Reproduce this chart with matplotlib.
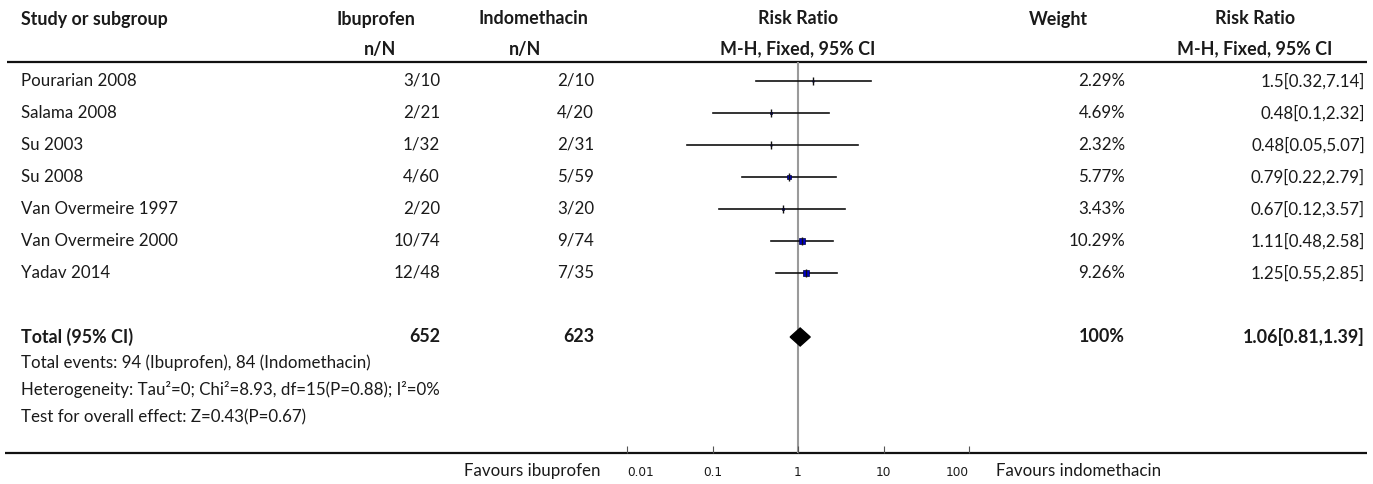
import matplotlib
matplotlib.use("Agg")
import matplotlib.pyplot as plt
from matplotlib.patches import Polygon

# ---- data ----
studies = ["Pourarian 2008", "Salama 2008", "Su 2003", "Su 2008",
           "Van Overmeire 1997", "Van Overmeire 2000", "Yadav 2014"]
ibu_events = [3, 2, 1, 4, 2, 10, 12]
ibu_total = [10, 21, 32, 60, 20, 74, 48]
indo_events = [2, 4, 2, 5, 3, 9, 7]
indo_total = [10, 20, 31, 59, 20, 74, 35]
rr = [1.5, 0.48, 0.48, 0.79, 0.67, 1.11, 1.25]
rr_lo = [0.32, 0.1, 0.05, 0.22, 0.12, 0.48, 0.55]
rr_hi = [7.14, 2.32, 5.07, 2.79, 3.57, 2.58, 2.85]
weights = [2.29, 4.69, 2.32, 5.77, 3.43, 10.29, 9.26]

total_ibu_n = 652
total_indo_n = 623
total_ibu_events = 94
total_indo_events = 84
total_rr, total_lo, total_hi = 1.06, 0.81, 1.39
total_weight = "100%"

heterogeneity = "Heterogeneity: Tau\u00b2=0; Chi\u00b2=8.93, df=15(P=0.88); I\u00b2=0%"
overall = "Test for overall effect: Z=0.43(P=0.67)"
x_ticks = [0.01, 0.1, 1, 10, 100]
x_ticklabels = ["0.01", "0.1", "1", "10", "100"]

# ---- layout (pixel units of a 1373x484 canvas) ----
W, H = 1373, 484
FONT = ["Lato", "DejaVu Sans"]
FS, FSB = 12.2, 12.9
TXT = "#1a1a1a"

fig = plt.figure(figsize=(W / 100, H / 100), dpi=100)
tab = fig.add_axes([0, 0, 1, 1])
tab.set_xlim(0, W)
tab.set_ylim(H, 0)
tab.axis("off")

def put(x, y, s, ha="left", bold=False):
    tab.text(x, y, s, ha=ha, va="center", fontsize=FSB if bold else FS,
             family=FONT, fontweight="bold" if bold else "normal", color=TXT)

col_study = 21
ibu_head, ibu_right = 376, 440
indo_head, indo_right = 533, 594
rr_head = 798
w_head, w_right = 1058, 1125
ci_head, ci_right = 1255, 1365
y_h1, y_h2, y_hline = 19, 49, 62
row0, step = 81, 32
y_axis = 453

# header
put(col_study, y_h1, "Study or subgroup", bold=True)
put(ibu_head, y_h1, "Ibuprofen", "center", True)
put(ibu_head + 4, y_h2, "n/N", "center", True)
put(indo_head, y_h1, "Indomethacin", "center", True)
put(indo_head - 8, y_h2, "n/N", "center", True)
put(rr_head, y_h1, "Risk Ratio", "center", True)
put(rr_head, y_h2, "M-H, Fixed, 95% CI", "center", True)
put(w_head, y_h1, "Weight", "center", True)
put(ci_head, y_h1, "Risk Ratio", "center", True)
put(ci_head, y_h2, "M-H, Fixed, 95% CI", "center", True)
tab.plot([7, 1367], [y_hline, y_hline], color="#111111", lw=1.6,
         solid_capstyle="butt")

# study rows
for i, name in enumerate(studies):
    y = row0 + i * step
    put(col_study, y, name)
    put(ibu_right, y, f"{ibu_events[i]}/{ibu_total[i]}", "right")
    put(indo_right, y, f"{indo_events[i]}/{indo_total[i]}", "right")
    put(w_right, y, f"{weights[i]:.2f}%", "right")
    put(ci_right, y, f"{rr[i]:g}[{rr_lo[i]:g},{rr_hi[i]:g}]", "right")

# totals
y_tot = row0 + 8 * step
put(col_study, y_tot, "Total (95% CI)", bold=True)
put(ibu_right, y_tot, f"{total_ibu_n}", "right", True)
put(indo_right, y_tot, f"{total_indo_n}", "right", True)
put(w_right, y_tot, total_weight, "right", True)
put(ci_right, y_tot, f"{total_rr:g}[{total_lo:g},{total_hi:g}]", "right", True)
put(col_study, 363, f"Total events: {total_ibu_events} (Ibuprofen), "
                    f"{total_indo_events} (Indomethacin)")
put(col_study, 390, heterogeneity)
put(col_study, 417, overall)

# bottom rule and favours labels
tab.plot([5, 1367], [y_axis, y_axis], color="#111111", lw=1.6,
         solid_capstyle="butt")
put(600, 471, "Favours ibuprofen", "right")
put(996, 471, "Favours indomethacin")

# ---- forest plot axes ----
x0, x1 = 627, 969
fx = fig.add_axes([x0 / W, 1 - y_axis / H, (x1 - x0) / W, (y_axis - y_hline) / H])
fx.set_xscale("log")
fx.set_xlim(0.01, 100)
fx.set_ylim((y_axis - row0) / step, (y_hline - row0) / step)
fx.patch.set_alpha(0)
for s in ["top", "left", "right", "bottom"]:
    fx.spines[s].set_visible(False)
fx.set_yticks([])
fx.set_xticks(x_ticks)
fx.set_xticklabels(x_ticklabels)
fx.minorticks_off()
fx.tick_params(axis="x", direction="in", length=5, width=0.8, color="#555555",
               pad=9, labelsize=8.7, labelcolor=TXT)
labels = fx.get_xticklabels()
for lab in labels:
    lab.set_family("DejaVu Sans")
labels[0].set_horizontalalignment("left")
labels[-1].set_horizontalalignment("right")

fx.axvline(1, color="#9a9a9a", lw=1.5, zorder=1)

for i in range(len(studies)):
    fx.plot([rr_lo[i], rr_hi[i]], [i, i], color="#111111", lw=1.2, zorder=2)
    side = 0.6 * weights[i] * 0.72
    fx.plot([rr[i]], [i], marker="s", markersize=side, color="#0000c8",
            markeredgecolor="#000040", markeredgewidth=0.5, zorder=3)
    fx.plot([rr[i]], [i], marker="|", markersize=6, color="#111111",
            markeredgewidth=1.0, zorder=4)

# pooled estimate diamond
hd = 9 / step
fx.add_patch(Polygon([[total_lo, 8], [total_rr, 8 - hd], [total_hi, 8],
                      [total_rr, 8 + hd]], closed=True, color="black", zorder=3))

fig.savefig("out.png", dpi=100)
